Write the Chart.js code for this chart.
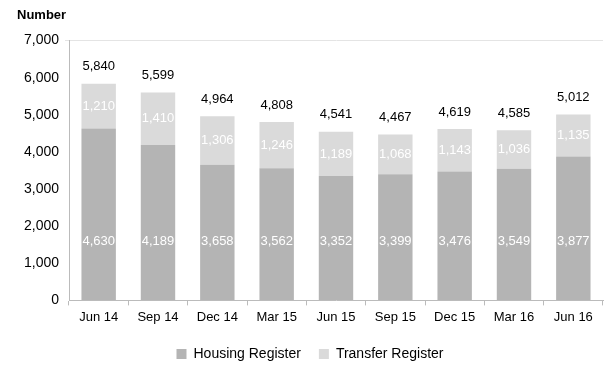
<!DOCTYPE html>
<html>
<head>
<meta charset="utf-8">
<script src="https://cdn.jsdelivr.net/npm/chart.js@4"></script>
<style>
  body { margin: 0; background: #fff; }
  #wrap { width: 611px; height: 373px; }
</style>
</head>
<body>
<div id="wrap"><canvas id="registro"></canvas></div>
<script>
const quarters = ['Jun 14', 'Sep 14', 'Dec 14', 'Mar 15', 'Jun 15', 'Sep 15', 'Dec 15', 'Mar 16', 'Jun 16'];
const housing = [4630, 4189, 3658, 3562, 3352, 3399, 3476, 3549, 3877];
const transfer = [1210, 1410, 1306, 1246, 1189, 1068, 1143, 1036, 1135];
const totals = [5840, 5599, 4964, 4808, 4541, 4467, 4619, 4585, 5012];

const fmt = v => v.toLocaleString('en-US');

// etiquetas de valores dentro y encima de las barras
const etiquetas = {
  id: 'etiquetas',
  afterDatasetsDraw(chart) {
    const c = chart.ctx;
    const y = chart.scales.y;
    c.save();
    c.font = '13px "Liberation Sans", Arial, sans-serif';
    c.textAlign = 'center';
    c.textBaseline = 'middle';
    chart.getDatasetMeta(0).data.forEach((bar, i) => {
      c.fillStyle = '#ffffff';
      c.fillText(fmt(housing[i]), bar.x, y.getPixelForValue(1600));
    });
    chart.getDatasetMeta(1).data.forEach((bar, i) => {
      c.fillStyle = '#ffffff';
      c.fillText(fmt(transfer[i]), bar.x, (bar.y + bar.base) / 2);
      c.fillStyle = '#000000';
      c.fillText(fmt(totals[i]), bar.x, bar.y - 17);
    });
    c.restore();
  }
};

const ctx = document.getElementById('registro');
new Chart(ctx, {
  type: 'bar',
  data: {
    labels: quarters,
    datasets: [
      {
        label: 'Housing Register',
        data: housing,
        backgroundColor: '#b4b4b4',
        categoryPercentage: 0.58,
        barPercentage: 1
      },
      {
        label: 'Transfer Register',
        data: transfer,
        backgroundColor: '#dadada',
        categoryPercentage: 0.58,
        barPercentage: 1
      }
    ]
  },
  options: {
    responsive: true,
    maintainAspectRatio: false,
    animation: false,
    layout: { padding: { left: 17, right: 8, top: 4, bottom: 2 } },
    plugins: {
      title: {
        display: true,
        text: 'Number',
        align: 'start',
        color: '#000',
        font: { family: '"Liberation Sans", Arial, sans-serif', size: 13, weight: 'bold' },
        padding: { top: 4, bottom: 17 }
      },
      legend: {
        position: 'bottom',
        labels: {
          color: '#000',
          boxWidth: 10,
          boxHeight: 10,
          padding: 18,
          font: { family: '"Liberation Sans", Arial, sans-serif', size: 14 }
        }
      },
      tooltip: { enabled: false }
    },
    scales: {
      x: {
        stacked: true,
        grid: { offset: true, drawOnChartArea: false, drawTicks: true, tickLength: 5, color: '#bbb' },
        border: { color: '#bbb' },
        ticks: {
          color: '#000',
          padding: 4,
          font: { family: '"Liberation Sans", Arial, sans-serif', size: 13 }
        }
      },
      y: {
        stacked: true,
        min: 0,
        max: 7000,
        afterFit(scale) { scale.width = 52; },
        grid: {
          drawOnChartArea: true,
          tickLength: 4,
          color: ctx => ctx.tick && ctx.tick.value === 7000 ? '#e4e4e4' : 'rgba(0,0,0,0)'
        },
        border: { color: '#bbb' },
        ticks: {
          stepSize: 1000,
          color: '#000',
          padding: 6,
          callback: v => fmt(v),
          font: { family: '"Liberation Sans", Arial, sans-serif', size: 14 }
        }
      }
    }
  },
  plugins: [etiquetas]
});
</script>
</body>
</html>
